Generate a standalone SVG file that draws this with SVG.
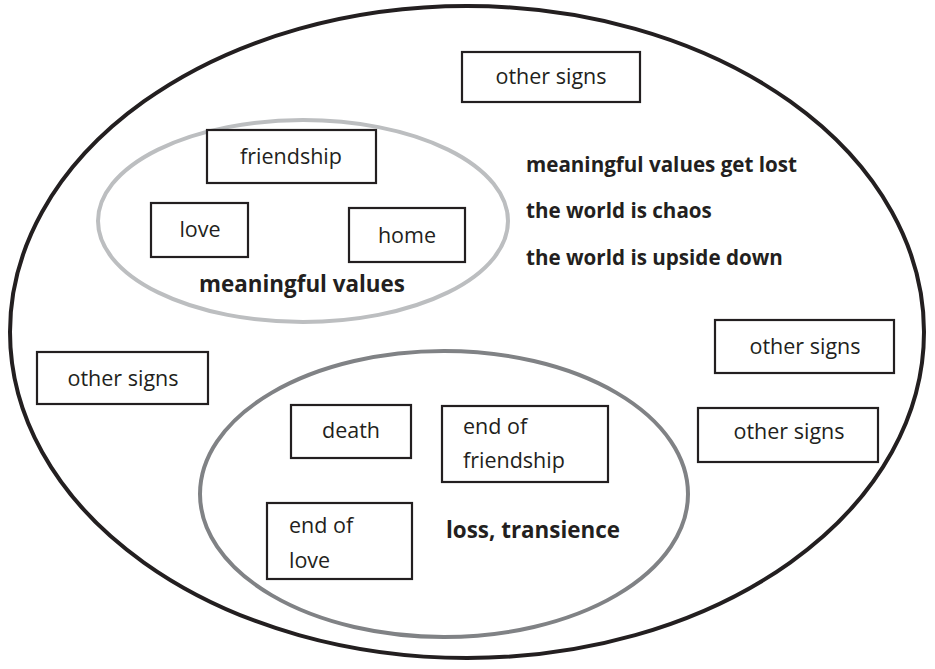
<svg xmlns="http://www.w3.org/2000/svg" width="935" height="669" viewBox="0 0 935 669">
<style>
.box{fill:#fff;stroke:#231f20;stroke-width:2.2}
.t{font-family:"Open Sans","Noto Sans","Liberation Sans",sans-serif;font-size:21.5px;fill:#231f20}
.c{text-anchor:middle}
.b{font-weight:bold;font-size:20.6px}
.L{font-weight:bold;font-size:22.4px}
</style>
<rect width="935" height="669" fill="#fff"/>
<g id="outer"><ellipse cx="467" cy="332" rx="457" ry="326" fill="none" stroke="#231f20" stroke-width="4"/></g>
<g id="values-group"><ellipse cx="303" cy="221" rx="205" ry="101" fill="none" stroke="#bcbec0" stroke-width="4"/>
<text class="t L c" x="302" y="292">meaningful values</text></g>
<g id="loss-group"><ellipse cx="444" cy="494" rx="244" ry="143" fill="none" stroke="#808285" stroke-width="4"/>
<text class="t L" x="446" y="538">loss, transience</text></g>
<g id="connectors"></g>
<g id="n-other-top"><rect class="box" x="462" y="52" width="178" height="50"/><text class="t c" x="551" y="84">other signs</text></g>
<g id="n-friendship"><rect class="box" x="207" y="130" width="169" height="53"/><text class="t c" x="291" y="164">friendship</text></g>
<g id="n-love"><rect class="box" x="151" y="203" width="97" height="54"/><text class="t c" x="200" y="237">love</text></g>
<g id="n-home"><rect class="box" x="349" y="208" width="116" height="54"/><text class="t c" x="407" y="243">home</text></g>
<g id="n-statements">
<text class="t b" x="526" y="172">meaningful values get lost</text>
<text class="t b" x="526" y="218">the world is chaos</text>
<text class="t b" x="526" y="265">the world is upside down</text>
</g>
<g id="n-other-left"><rect class="box" x="37" y="352" width="171" height="52"/><text class="t c" x="123" y="386">other signs</text></g>
<g id="n-other-right1"><rect class="box" x="715" y="320" width="179" height="53"/><text class="t c" x="805" y="354">other signs</text></g>
<g id="n-other-right2"><rect class="box" x="698" y="408" width="180" height="54"/><text class="t c" x="789" y="439">other signs</text></g>
<g id="n-death"><rect class="box" x="291" y="405" width="120" height="53"/><text class="t c" x="351" y="438">death</text></g>
<g id="n-end-friendship"><rect class="box" x="442" y="406" width="166" height="76"/><text class="t" x="463" y="434">end of</text><text class="t" x="463" y="468">friendship</text></g>
<g id="n-end-love"><rect class="box" x="267" y="503" width="145" height="76"/><text class="t" x="289" y="533">end of</text><text class="t" x="289" y="568">love</text></g>
</svg>
